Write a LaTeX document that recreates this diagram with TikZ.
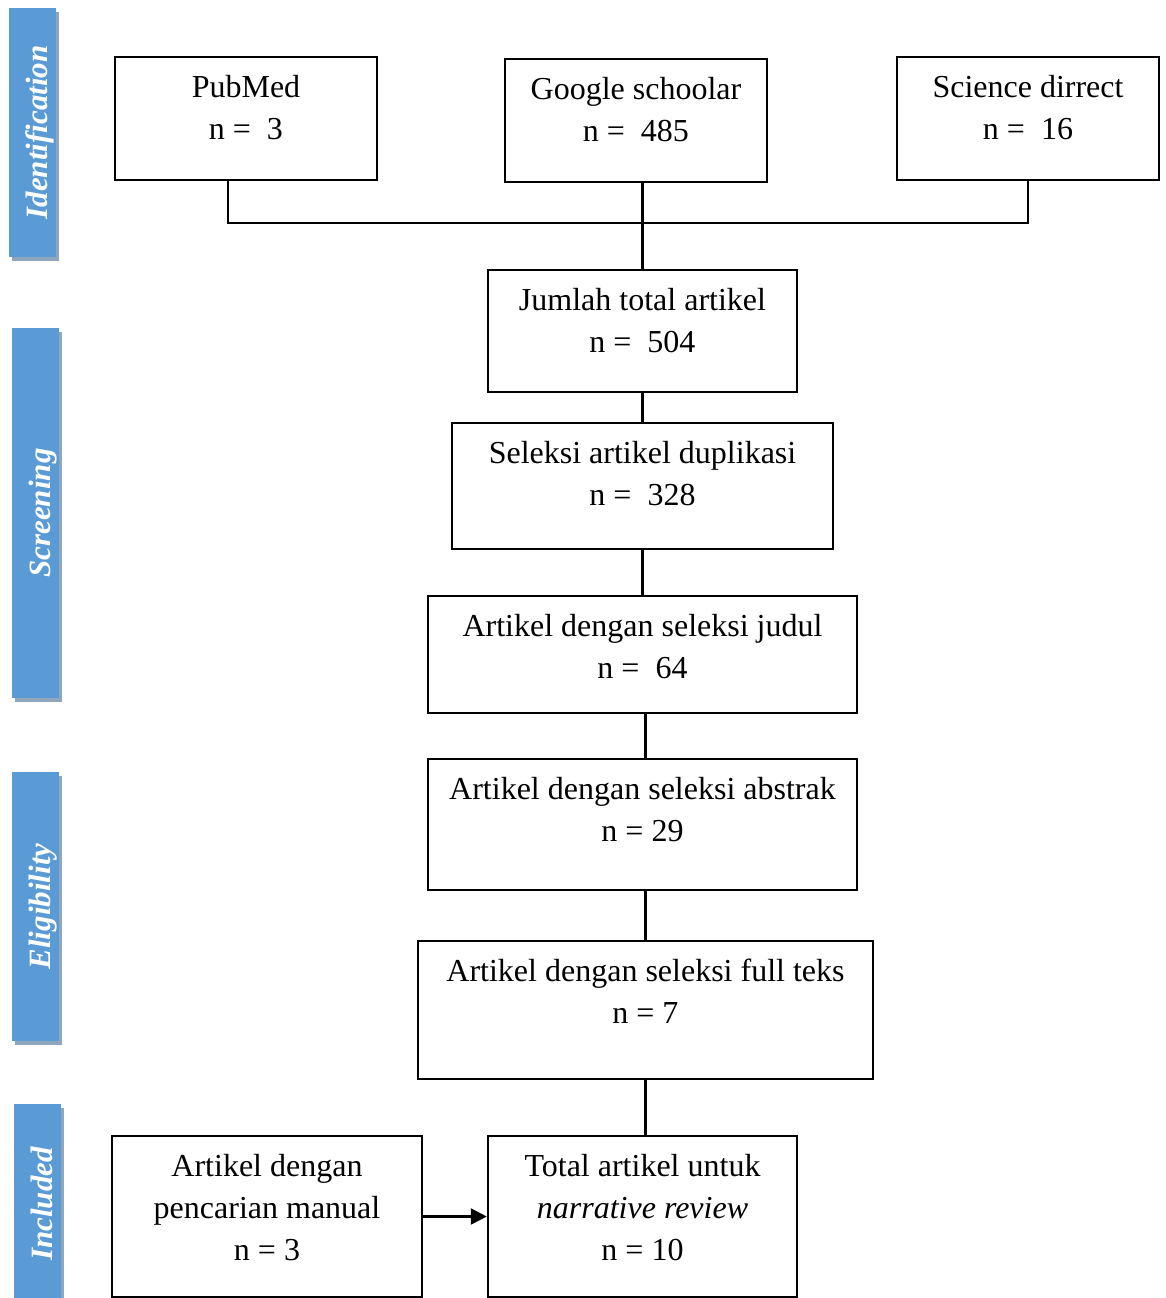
\documentclass[tikz,border=0pt]{standalone}
\usepackage{fontspec}
\setmainfont{Liberation Serif}
\usetikzlibrary{positioning,arrows.meta,calc}
\definecolor{stageblue}{HTML}{5B9BD5}
\definecolor{stageshade}{HTML}{8FA6BD}

\begin{document}
\begin{tikzpicture}[x=1pt, y=1pt,
    box/.style={rectangle, draw, line width=2.5pt, inner sep=0pt},
    txt/.style={anchor=north, align=center, inner sep=0pt, font=\fontsize{32}{42}\selectfont},
    stage/.style={rectangle, fill=stageblue, rotate=90, inner sep=0pt, minimum height=47pt,
        text height=30pt, text depth=0pt,
        text=white, font=\fontsize{31}{36}\selectfont\bfseries\itshape},
    shade/.style={rectangle, fill=stageshade, rotate=90, inner sep=0pt, minimum height=47pt},
    link/.style={line width=2.5pt},
    arrow/.style={link, -{Triangle[length=16pt, width=16pt]}}
]
\useasboundingbox (0,0) rectangle (1165,-1298);

% stage bars
\node[shade, minimum width=249pt] at (35.5,-136.5) {};
\node[stage, minimum width=249pt] (ident) at (32.5,-132.5) {Identification};
\node[shade, minimum width=370pt] at (38.5,-517) {};
\node[stage, minimum width=370pt] (screen) at (35.5,-513) {Screening};
\node[shade, minimum width=269pt] at (38.5,-910.5) {};
\node[stage, minimum width=269pt] (elig) at (35.5,-906.5) {Eligibility};
\node[shade, minimum width=200pt] at (40.5,-1208) {};
\node[stage, minimum width=200pt] (incl) at (37.5,-1204) {Included};

% sources
\node[box, minimum width=262pt, minimum height=123pt] (pubmed) at (246,-118.5) {};
\node[txt] (pubmedtxt) at ([yshift=-19pt]pubmed.north) {PubMed\\n = \ 3};
\node[box, minimum width=262pt, minimum height=123pt] (google) at (636,-120.5) {};
\node[txt] (googletxt) at ([yshift=-19pt]google.north) {Google schoolar\\n = \ 485};
\node[box, minimum width=262pt, minimum height=123pt] (sciencedirect) at (1028,-118.5) {};
\node[txt] (sciencetxt) at ([yshift=-19pt]sciencedirect.north) {Science dirrect\\n = \ 16};

% flow
\node[box, minimum width=309pt, minimum height=122pt] (total) at (642.5,-331) {};
\node[txt] (totaltxt) at ([yshift=-19pt]total.north) {Jumlah total artikel\\n = \ 504};
\node[box, minimum width=381pt, minimum height=126pt] (dupl) at (642.5,-486) {};
\node[txt] (dupltxt) at ([yshift=-19pt]dupl.north) {Seleksi artikel duplikasi\\n = \ 328};
\node[box, minimum width=429pt, minimum height=117pt] (judul) at (642.5,-654.5) {};
\node[txt] (judultxt) at ([yshift=-19pt]judul.north) {Artikel dengan seleksi judul\\n = \ 64};
\node[box, minimum width=429pt, minimum height=131pt] (abstrak) at (642.5,-824.5) {};
\node[txt] (abstraktxt) at ([yshift=-19pt]abstrak.north) {Artikel dengan seleksi abstrak\\n = 29};
\node[box, minimum width=455pt, minimum height=138pt] (fullteks) at (645.5,-1010) {};
\node[txt] (fulltekstxt) at ([yshift=-19pt]fullteks.north) {Artikel dengan seleksi full teks\\n = 7};
\node[box, minimum width=310pt, minimum height=161pt] (manual) at (267,-1216.5) {};
\node[txt] (manualtxt) at ([yshift=-19pt]manual.north) {Artikel dengan\\pencarian manual\\n = 3};
\node[box, minimum width=309pt, minimum height=161pt] (review) at (642.5,-1216.5) {};
\node[txt] (reviewtxt) at ([yshift=-19pt]review.north) {Total artikel untuk\\\textit{narrative review}\\n = 10};

% connectors
\coordinate (join) at (643,-223);
\draw[link] ([xshift=-18pt]pubmed.south) |- (join) -| (sciencedirect.south);
\draw[link] (google.south -| total.north) -- (total.north);
\draw[link] (total) -- (dupl);
\draw[link] (dupl) -- (judul);
\draw[link] (judul.south -| fullteks.south) -- (abstrak.north -| fullteks.north);
\draw[link] (abstrak.south -| fullteks.north) -- (fullteks.north);
\draw[link] (fullteks.south) -- (fullteks.south |- review.north);
\draw[arrow] (manual.east) -- (review.west);
\end{tikzpicture}
\end{document}
